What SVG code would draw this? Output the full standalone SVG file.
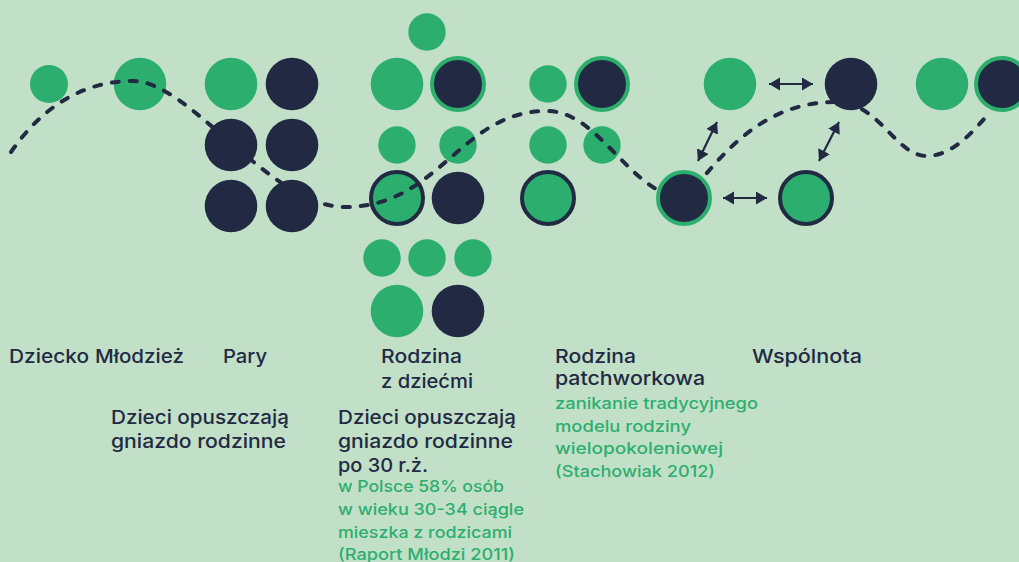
<svg xmlns="http://www.w3.org/2000/svg" width="1019" height="562" viewBox="0 0 1019 562">
<defs>
<style>
.g{fill:#2caf6e}
.d{fill:#212a42}
.dr{fill:#212a42;stroke:#2caf6e;stroke-width:4}
.gr{fill:#2caf6e;stroke:#212a42;stroke-width:4}
.t{font-family:Inter,"Noto Sans",sans-serif;font-size:19px;fill:#212a42;font-weight:500}
.s{font-family:Inter,"Noto Sans",sans-serif;font-size:16px;fill:#2caf6e;font-weight:500}
.curve{fill:none;stroke:#212a42;stroke-width:4;stroke-dasharray:7 11;stroke-linecap:round}
.arr{stroke:#212a42;stroke-width:2.2;marker-start:url(#ah);marker-end:url(#ah)}
</style>
<marker id="ah" markerUnits="userSpaceOnUse" markerWidth="14" markerHeight="14" refX="11" refY="6.5" orient="auto-start-reverse">
<path d="M0,0 L11,6.5 L0,13 z" fill="#212a42"/>
</marker>
</defs>
<rect width="1019" height="562" fill="#c2dfc8"/>

<g id="dziecko">
<circle class="g" cx="49" cy="84" r="19"/>
<text class="t" x="9" y="363" textLength="80" lengthAdjust="spacingAndGlyphs">Dziecko</text>
</g>
<g id="mlodziez">
<circle class="g" cx="140" cy="84" r="26.3"/>
<text class="t" x="95" y="363" textLength="89" lengthAdjust="spacingAndGlyphs">Młodzież</text>
</g>
<g id="pary">
<circle class="g" cx="231" cy="84" r="26.3"/>
<circle class="d" cx="292" cy="84" r="26.3"/>
<circle class="d" cx="231" cy="145" r="26.3"/>
<circle class="d" cx="292" cy="145" r="26.3"/>
<circle class="d" cx="231" cy="206" r="26.3"/>
<circle class="d" cx="292" cy="206" r="26.3"/>
<text class="t" x="223" y="363" textLength="44" lengthAdjust="spacingAndGlyphs">Pary</text>
<text class="t" x="111" y="424" textLength="178" lengthAdjust="spacingAndGlyphs">Dzieci opuszczają</text>
<text class="t" x="111" y="448" textLength="175" lengthAdjust="spacingAndGlyphs">gniazdo rodzinne</text>
</g>
<g id="rodzina">
<circle class="g" cx="427" cy="32" r="18.7"/>
<circle class="g" cx="397" cy="84" r="26.3"/>
<circle class="dr" cx="458" cy="84" r="26"/>
<circle class="g" cx="397" cy="145" r="18.7"/>
<circle class="g" cx="458" cy="145" r="18.7"/>
<circle class="gr" cx="397" cy="198" r="26"/>
<circle class="d" cx="458" cy="198" r="26.3"/>
<circle class="g" cx="382" cy="258" r="18.7"/>
<circle class="g" cx="427" cy="258" r="18.7"/>
<circle class="g" cx="473" cy="258" r="18.7"/>
<circle class="g" cx="397" cy="311" r="26.3"/>
<circle class="d" cx="458" cy="311" r="26.3"/>
<text class="t" x="381" y="363" textLength="81" lengthAdjust="spacingAndGlyphs">Rodzina</text>
<text class="t" x="381" y="388" textLength="92" lengthAdjust="spacingAndGlyphs">z dziećmi</text>
<text class="t" x="338" y="424" textLength="178" lengthAdjust="spacingAndGlyphs">Dzieci opuszczają</text>
<text class="t" x="338" y="448" textLength="175" lengthAdjust="spacingAndGlyphs">gniazdo rodzinne</text>
<text class="t" x="338" y="472" textLength="90" lengthAdjust="spacingAndGlyphs">po 30 r.ż.</text>
<text class="s" x="338" y="492" textLength="166" lengthAdjust="spacingAndGlyphs">w Polsce 58% osób</text>
<text class="s" x="338" y="515" textLength="186" lengthAdjust="spacingAndGlyphs">w wieku 30-34 ciągle</text>
<text class="s" x="338" y="538" textLength="174" lengthAdjust="spacingAndGlyphs">mieszka z rodzicami</text>
<text class="s" x="338" y="560" textLength="177" lengthAdjust="spacingAndGlyphs">(Raport Młodzi 2011)</text>
</g>
<g id="patchwork">
<circle class="g" cx="548" cy="84" r="18.7"/>
<circle class="dr" cx="602" cy="84" r="26"/>
<circle class="g" cx="548" cy="145" r="18.7"/>
<circle class="g" cx="602" cy="145" r="18.7"/>
<circle class="gr" cx="548" cy="198" r="26"/>
<text class="t" x="555" y="363" textLength="81" lengthAdjust="spacingAndGlyphs">Rodzina</text>
<text class="t" x="555" y="385" textLength="150" lengthAdjust="spacingAndGlyphs">patchworkowa</text>
<text class="s" x="555" y="409" textLength="203" lengthAdjust="spacingAndGlyphs">zanikanie tradycyjnego</text>
<text class="s" x="555" y="432" textLength="136" lengthAdjust="spacingAndGlyphs">modelu rodziny</text>
<text class="s" x="555" y="454" textLength="168" lengthAdjust="spacingAndGlyphs">wielopokoleniowej</text>
<text class="s" x="555" y="477" textLength="160" lengthAdjust="spacingAndGlyphs">(Stachowiak 2012)</text>
</g>
<g id="wspolnota">
<circle class="g" cx="730" cy="84" r="26.3"/>
<circle class="d" cx="851" cy="84" r="26.3"/>
<circle class="dr" cx="684" cy="198" r="26"/>
<circle class="gr" cx="806" cy="198" r="26"/>
<text class="t" x="752" y="363" textLength="110" lengthAdjust="spacingAndGlyphs">Wspólnota</text>
</g>
<g id="future">
<circle class="g" cx="942" cy="84" r="26.3"/>
<circle class="dr" cx="1002" cy="84" r="26"/>
</g>

<g id="connectors">
<path class="curve" d="M11,152 C40,110 80,81 133,81 C190,81 270,207 345,207 C440,207 460,111 547,111 C600,111 630,195 684,198 C710,175 750,102 835,102 C880,102 895,156 927,156 C950,156 970,135 984,119"/>
<line class="arr" x1="769" y1="84" x2="813" y2="84"/>
<line class="arr" x1="723" y1="198" x2="767" y2="198"/>
<line class="arr" x1="717" y1="122" x2="698" y2="161"/>
<line class="arr" x1="839" y1="122" x2="819" y2="161"/>
</g>
</svg>
